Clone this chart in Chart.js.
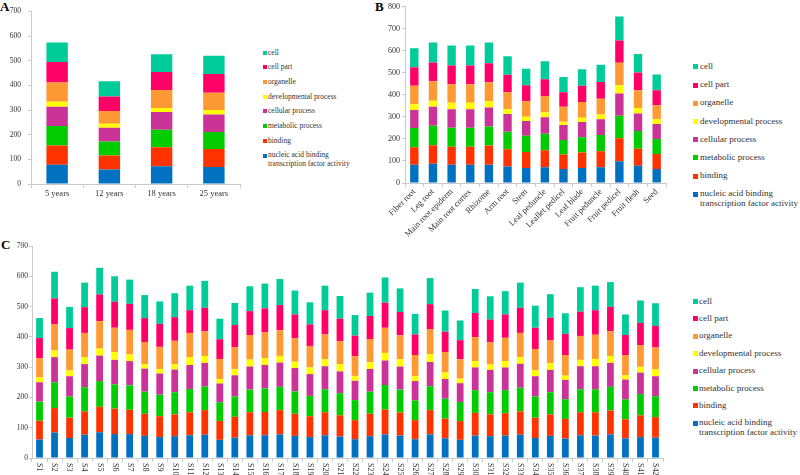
<!DOCTYPE html>
<html>
<head>
<meta charset="utf-8">
<script src="https://cdn.jsdelivr.net/npm/chart.js@4.4.1/dist/chart.umd.min.js"></script>
<style>
  body { margin: 0; background: #fff; }
  #wrap { position: relative; width: 800px; height: 475px; overflow: hidden; font-family: "Liberation Serif", serif; color: #333; }
  canvas { position: absolute; }
  .letter { position: absolute; font-weight: bold; font-size: 13px; color: #000; font-family: "Liberation Serif", serif; }
  .leg { position: absolute; white-space: nowrap; line-height: 1.1; font-family: "Liberation Serif", serif; }
  .leg i { position: absolute; top: 50%; display: block; }
</style>
</head>
<body>
<div id="wrap">
  <span class="letter" style="left:0px;top:-1px">A</span>
  <span class="letter" style="left:375px;top:-1px">B</span>
  <span class="letter" style="left:1px;top:237px">C</span>
  <canvas id="chartA" width="250" height="205" style="left:0;top:0"></canvas>
  <canvas id="chartB" width="300" height="240" style="left:376px;top:0"></canvas>
  <canvas id="chartC" width="680" height="235" style="left:0;top:240px"></canvas>
</div>
<script>
// series, bottom to top
const seriesNames = [
  "nucleic acid binding transcription factor activity",
  "binding",
  "metabolic process",
  "cellular process",
  "developmental process",
  "organelle",
  "cell part",
  "cell"
];
const colors = ["#0070c0", "#ff3300", "#00cc00", "#cc3399", "#ffff00", "#ff9933", "#ff0066", "#00cc99"];

// panel A
const aLabels = ["5 years", "12 years", "18 years", "25 years"];
const aBlue = [78, 59, 72, 69];
const aRed = [78, 57, 77, 73];
const aGreen = [79, 56, 71, 69];
const aMag = [78, 56, 72, 71];
const aYel = [21, 16, 16, 18];
const aOrg = [78, 52, 73, 70];
const aPink = [83, 59, 73, 76];
const aCell = [79, 62, 73, 74];

// panel B
const bLabels = ["Fiber root", "Leg root", "Main root epiderm", "Main root cortex", "Rhizome", "Arm root", "Stem",
  "Leaf peduncle", "Leaflet pedicel", "Leaf blade", "Fruit peduncle", "Fruit pedicel", "Fruit flesh", "Seed"];
const bBlue = [83, 87, 83, 83, 83, 75, 68, 71, 63, 68, 71, 99, 78, 63];
const bRed = [79, 84, 82, 82, 87, 78, 73, 78, 66, 70, 73, 104, 78, 69];
const bGreen = [88, 89, 86, 86, 86, 80, 73, 75, 66, 70, 74, 102, 80, 68];
const bMag = [81, 86, 84, 84, 87, 80, 67, 75, 68, 69, 72, 101, 80, 68];
const bYel = [27, 27, 29, 29, 28, 22, 20, 21, 15, 19, 21, 38, 25, 21];
const bOrg = [84, 89, 84, 84, 86, 77, 70, 75, 68, 72, 72, 102, 80, 64];
const bPink = [84, 85, 86, 86, 87, 80, 73, 76, 66, 73, 76, 101, 81, 68];
const bCell = [86, 91, 90, 90, 94, 84, 75, 82, 69, 75, 78, 109, 84, 72];

// panel C
const cLabels = [];
for (let i = 1; i <= 42; i++) cLabels.push("S" + i);
const cBlue = [61,84,66,77,85,79,79,73,69,72,75,77,60,67,75,75,78,73,69,75,71,62,72,78,74,62,78,65,60,74,72,74,77,66,73,64,75,74,78,65,69,67];
const cRed = [62,81,67,77,84,84,80,73,69,72,76,81,62,69,76,77,80,73,69,76,70,63,74,82,76,63,80,65,62,75,72,74,77,67,71,65,76,77,79,63,72,68];
const cGreen = [63,85,70,80,85,80,81,73,71,73,77,78,62,67,75,78,77,74,67,76,73,66,73,81,76,65,79,66,63,75,73,76,78,70,73,65,76,76,78,66,70,69];
const cMag = [64,83,67,76,84,81,80,76,70,75,79,78,62,70,76,77,80,77,72,76,72,64,75,81,76,64,80,65,62,75,74,75,79,67,74,64,76,76,79,65,71,66];
const cYel = [16,22,19,23,23,26,22,15,15,18,26,23,15,21,23,23,22,21,22,23,24,16,22,25,24,16,26,21,15,21,18,21,22,20,22,14,21,24,23,14,19,23];
const cOrg = [64,86,69,80,91,80,81,73,73,77,80,81,66,72,81,85,85,77,71,82,75,65,77,83,79,70,83,68,64,79,73,77,80,70,75,68,79,80,81,67,72,72];
const cPink = [66,86,71,85,88,86,86,79,76,78,75,78,65,73,79,79,83,79,71,80,75,68,76,83,77,68,82,67,63,80,75,77,83,70,75,70,80,81,81,66,73,71];
const cCell = [66,88,70,81,88,84,80,76,74,79,81,89,68,73,82,82,86,79,73,81,75,68,77,83,78,68,86,70,65,79,77,77,83,73,78,68,81,81,82,68,74,75];

const axisColor = "#c9c9c9";
const textColor = "#333";
const serif = '"Liberation Serif", serif';

function makeDatasets(arrs, barPct) {
  return arrs.map((d, i) => ({
    label: seriesNames[i],
    data: d,
    backgroundColor: colors[i],
    borderWidth: 0,
    categoryPercentage: 1,
    barPercentage: barPct
  }));
}

// C labels read top to bottom, so draw them ourselves at the tick positions
const verticalLabels = {
  id: "verticalLabels",
  afterDraw(chart) {
    const xs = chart.scales.x;
    const ctx = chart.ctx;
    ctx.save();
    ctx.font = "8px " + serif;
    ctx.fillStyle = textColor;
    ctx.textAlign = "left";
    ctx.textBaseline = "middle";
    chart.data.labels.forEach((lab, i) => {
      ctx.save();
      ctx.translate(xs.getPixelForTick(i), xs.top + 5);
      ctx.rotate(Math.PI / 2);
      ctx.fillText(lab, 0, 0);
      ctx.restore();
    });
    ctx.restore();
  }
};

function makeChart(id, labels, arrs, o) {
  return new Chart(document.getElementById(id), {
    type: "bar",
    data: { labels: labels, datasets: makeDatasets(arrs, o.barPct) },
    plugins: o.plugins || [],
    options: {
      responsive: false,
      animation: false,
      layout: { padding: o.padding },
      plugins: { legend: { display: false }, tooltip: { enabled: false } },
      scales: {
        x: {
          stacked: true,
          grid: { drawOnChartArea: false, tickLength: 4, color: axisColor },
          border: { color: axisColor },
          ticks: {
            display: o.xTicks !== false,
            autoSkip: false,
            maxRotation: o.rot, minRotation: o.rot,
            padding: o.xPad,
            color: textColor,
            font: { family: serif, size: o.xFont }
          },
          afterFit: s => { s.height = o.xH; }
        },
        y: {
          stacked: true,
          min: 0, max: o.yMax,
          grid: { drawOnChartArea: false, tickLength: 3, color: axisColor },
          border: { color: axisColor },
          ticks: { stepSize: 100, padding: o.yPad, color: textColor, font: { family: serif, size: o.yFont } },
          afterFit: s => { s.width = o.yW; }
        }
      }
    }
  });
}

makeChart("chartA", aLabels, [aBlue, aRed, aGreen, aMag, aYel, aOrg, aPink, aCell],
  { barPct: 0.41, padding: { top: 5, right: 10, left: 0, bottom: 0 }, rot: 0, xPad: 1, xFont: 8.5, xH: 21, yMax: 700, yPad: 7, yFont: 7.5, yW: 31 });

makeChart("chartB", bLabels, [bBlue, bRed, bGreen, bMag, bYel, bOrg, bPink, bCell],
  { barPct: 0.45, padding: { top: 6, right: 10, left: 0, bottom: 0 }, rot: 45, xPad: 0, xFont: 8.5, xH: 57, yMax: 800, yPad: 2, yFont: 8, yW: 29 });

makeChart("chartC", cLabels, [cBlue, cRed, cGreen, cMag, cYel, cOrg, cPink, cCell],
  { barPct: 0.45, padding: { top: 6, right: 17, left: 0, bottom: 0 }, rot: 0, xPad: 0, xFont: 8, xH: 17, yMax: 700, yPad: 1, yFont: 7.5, yW: 32, xTicks: false, plugins: [verticalLabels] });

// legends, top item is the top series
function buildLegend(left, top, step, size, box, gap) {
  const wrap = document.getElementById("wrap");
  for (let k = 7; k >= 0; k--) {
    const row = 7 - k;
    const el = document.createElement("div");
    el.className = "leg";
    el.style.left = left + "px";
    el.style.top = (top + row * step - size * 0.6) + "px";
    el.style.fontSize = size + "px";
    let txt = seriesNames[k];
    if (k === 0) txt = "nucleic acid binding<br>transcription factor activity";
    el.innerHTML = '<i style="width:' + box + 'px;height:' + box + 'px;background:' + colors[k] +
      ';left:' + (-gap) + 'px;margin-top:' + (-box / 2) + 'px"></i>' + txt;
    if (k === 0) el.querySelector("i").style.top = (size * 0.6) + "px";
    wrap.appendChild(el);
  }
}
buildLegend(268, 53, 14.7, 7.5, 4, 5);
buildLegend(700, 67.3, 18.2, 9, 5, 7);
buildLegend(699, 302, 17.4, 9, 5, 6);
</script>
</body>
</html>
